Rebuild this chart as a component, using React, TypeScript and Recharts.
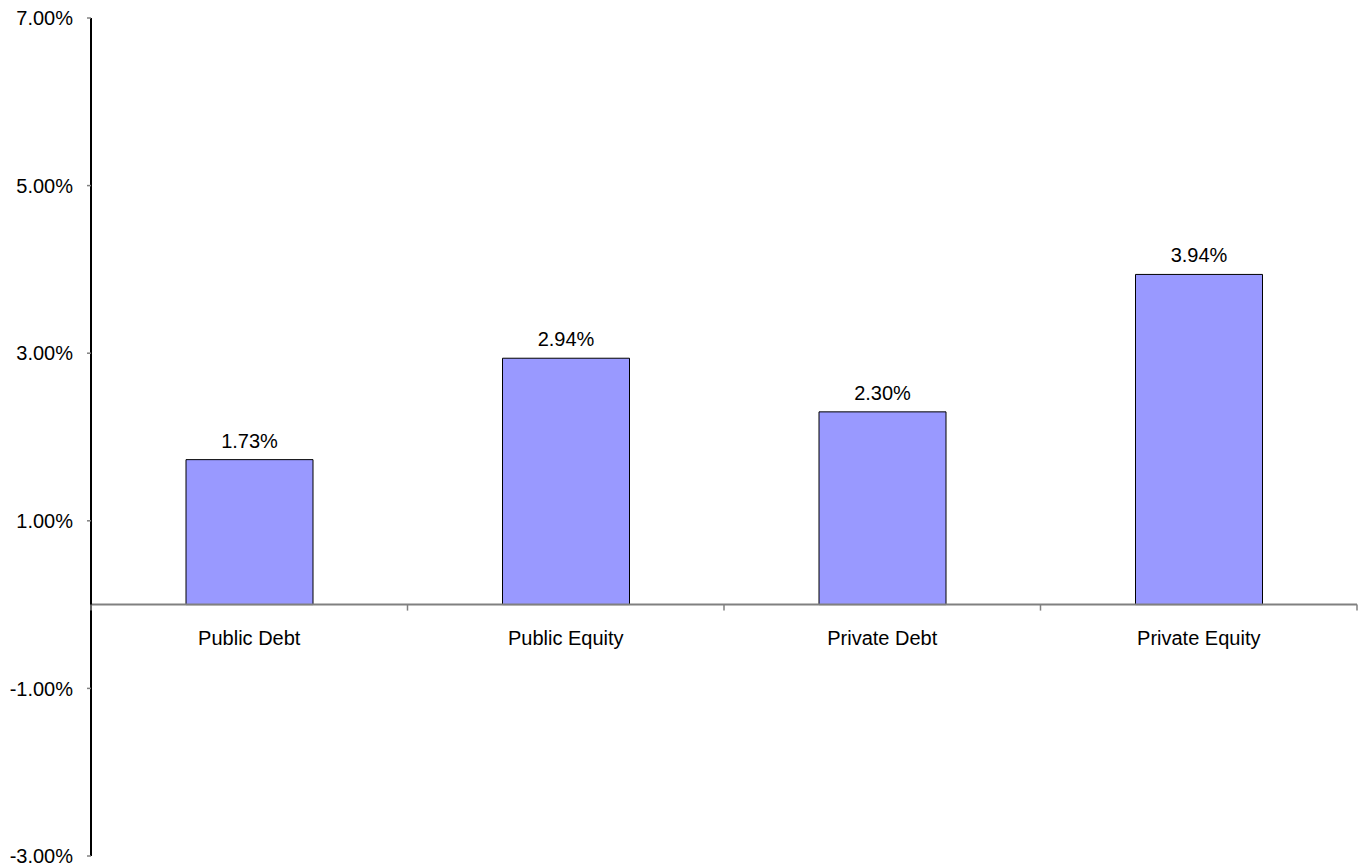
import React from 'react';
import { BarChart, Bar, XAxis, YAxis, ReferenceLine, LabelList } from 'recharts';

// Excess returns by asset class (percent)
const categories = ['Public Debt', 'Public Equity', 'Private Debt', 'Private Equity'];
const returns = [1.73, 2.94, 2.3, 3.94];
const yTicks = [-3, -1, 1, 3, 5, 7];
const yDomain: [number, number] = [-3, 7];

const data = categories.map((name, i) => ({ name, value: returns[i] }));

const WIDTH = 1362;
const HEIGHT = 867;
const MARGIN = { top: 18, right: 5, bottom: 10, left: 0 };
const X_AXIS_HEIGHT = 1;
const Y_AXIS_WIDTH = 91;
const FONT = '"Liberation Sans", Arial, sans-serif';

const plotHeight = HEIGHT - MARGIN.top - MARGIN.bottom - X_AXIS_HEIGHT;
const plotWidth = WIDTH - MARGIN.left - MARGIN.right - Y_AXIS_WIDTH;
const zeroY = MARGIN.top + plotHeight * (yDomain[1] / (yDomain[1] - yDomain[0]));
const bandWidth = plotWidth / categories.length;

const pct = (v: number) => `${Number(v).toFixed(2)}%`;

// Category labels and boundary tick marks sit on the zero line rather than the plot bottom
const renderCategoryTick = (props: any) => {
  const { x, payload, index } = props;
  return (
    <g key={`cat-${index}`}>
      {index === 0 && (
        <line x1={x - bandWidth / 2} x2={x - bandWidth / 2} y1={zeroY} y2={zeroY + 6} stroke="#808080" strokeWidth={1.5} />
      )}
      <line x1={x + bandWidth / 2} x2={x + bandWidth / 2} y1={zeroY} y2={zeroY + 6} stroke="#808080" strokeWidth={1.5} />
      <text x={x} y={zeroY + 40} textAnchor="middle" fill="#000" fontSize={20} fontFamily={FONT}>
        {payload.value}
      </text>
    </g>
  );
};

export default function App() {
  return (
    <div style={{ position: 'absolute', left: 0, top: 0, background: '#fff' }}>
      <BarChart width={WIDTH} height={HEIGHT} data={data} margin={MARGIN}>
        <XAxis
          dataKey="name"
          height={X_AXIS_HEIGHT}
          axisLine={false}
          tickLine={false}
          interval={0}
          tick={renderCategoryTick}
        />
        <YAxis
          width={Y_AXIS_WIDTH}
          domain={yDomain}
          ticks={yTicks}
          interval={0}
          allowDataOverflow
          tickFormatter={pct}
          axisLine={{ stroke: '#000', strokeWidth: 2 }}
          tickLine={{ stroke: '#808080', strokeWidth: 1.5 }}
          tickSize={4}
          tickMargin={14}
          tick={{ fill: '#000', fontSize: 20, fontFamily: FONT }}
        />
        <ReferenceLine y={0} stroke="#808080" strokeWidth={2} />
        <Bar dataKey="value" fill="#9999FF" stroke="#000" strokeWidth={1} barSize={127} isAnimationActive={false}>
          <LabelList
            dataKey="value"
            position="top"
            offset={12}
            formatter={(v: any) => pct(v)}
            style={{ fill: '#000', fontSize: 20, fontFamily: FONT }}
          />
        </Bar>
      </BarChart>
    </div>
  );
}
